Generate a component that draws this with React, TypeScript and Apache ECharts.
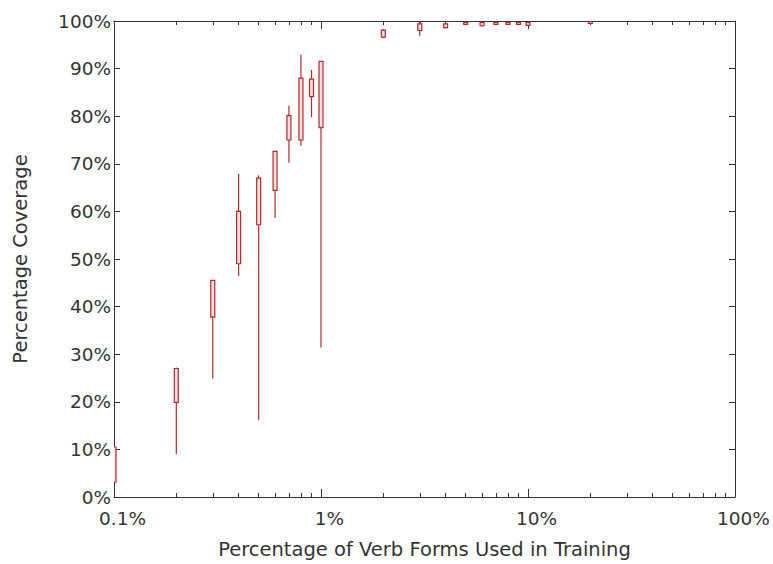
import React, { useEffect, useRef } from "react";
import * as echarts from "echarts";

// Training share (% of verb forms) for each box
const trainingPct = [0.1, 0.2, 0.3, 0.4, 0.5, 0.6, 0.7, 0.8, 0.9, 1, 2, 3, 4, 5, 6, 7, 8, 9, 10, 20];
// Coverage statistics (%)
const minVals = [2.9, 9.0, 24.9, 46.5, 16.2, 58.6, 70.2, 73.8, 79.8, 31.4, 96.4, 96.9, 98.5, 99.2, 98.8, 99.2, 99.2, 99.2, 99.0, 99.4];
const q1Vals = [3.1, 19.9, 37.8, 49.0, 57.2, 64.4, 75.0, 75.0, 84.1, 77.6, 96.6, 98.0, 98.6, 99.3, 99.0, 99.3, 99.3, 99.3, 99.1, 99.5];
const q3Vals = [10.5, 27.0, 45.5, 60.0, 67.0, 72.6, 80.1, 88.0, 87.8, 91.5, 98.1, 99.4, 99.4, 99.7, 99.7, 99.7, 99.7, 99.7, 99.7, 99.9];
const maxVals = [10.8, 27.2, 45.6, 67.9, 67.6, 72.7, 82.2, 92.9, 89.7, 91.6, 98.3, 99.9, 99.6, 99.9, 99.9, 99.9, 99.9, 99.9, 99.9, 100];

// Axis ticks
const majorTicksX = [0.1, 1, 10, 100];
const minorTicksX = [0.2, 0.3, 0.4, 0.5, 0.6, 0.7, 0.8, 0.9, 2, 3, 4, 5, 6, 7, 8, 9, 20, 30, 40, 50, 60, 70, 80, 90];

const FONT = "DejaVu Sans";
const AXIS_COLOR = "#333";
const BOX_COLOR = "#b02a2a";
const BOX_HALF = 2;

export default function App() {
  const ref = useRef<HTMLDivElement>(null);

  useEffect(() => {
    if (!ref.current) return;
    const chart = echarts.init(ref.current, null, { renderer: "svg" });

    const boxData = trainingPct.map((x, i) => [x, minVals[i], q1Vals[i], q3Vals[i], maxVals[i]]);

    const logAxisBase = {
      type: "log" as const,
      logBase: 10,
      min: 0.1,
      max: 100,
      gridIndex: 0,
      splitLine: { show: false },
      minorTick: { show: false },
    };

    const renderItem = (_params: any, api: any) => {
      const x = api.value(0);
      const pMin = api.coord([x, api.value(1)]);
      const pQ1 = api.coord([x, api.value(2)]);
      const pQ3 = api.coord([x, api.value(3)]);
      const pMax = api.coord([x, api.value(4)]);
      const cx = pQ1[0];
      const lineStyle = { stroke: BOX_COLOR, lineWidth: 1.2, fill: null };
      return {
        type: "group",
        children: [
          { type: "line", shape: { x1: cx, y1: pMin[1], x2: cx, y2: pQ1[1] }, style: lineStyle },
          { type: "line", shape: { x1: cx, y1: pQ3[1], x2: cx, y2: pMax[1] }, style: lineStyle },
          {
            type: "rect",
            shape: { x: cx - BOX_HALF, y: pQ3[1], width: BOX_HALF * 2, height: Math.max(pQ1[1] - pQ3[1], 1.5) },
            style: { stroke: BOX_COLOR, lineWidth: 1.2, fill: "#f4dede" },
          },
        ],
      };
    };

    chart.setOption({
      animation: false,
      backgroundColor: "#fff",
      grid: { left: 114, right: 38, top: 21, bottom: 66, containLabel: false },
      xAxis: [
        {
          ...logAxisBase,
          position: "bottom",
          name: "Percentage of Verb Forms Used in Training",
          nameLocation: "middle",
          nameGap: 42,
          nameTextStyle: { fontFamily: FONT, fontSize: 19.5, color: AXIS_COLOR },
          axisLine: { show: true, lineStyle: { color: AXIS_COLOR, width: 1 } },
          axisTick: { show: true, inside: true, length: 8, customValues: majorTicksX, lineStyle: { color: AXIS_COLOR } },
          axisLabel: {
            show: true,
            customValues: majorTicksX,
            margin: 12,
            padding: [0, 0, 0, 17],
            fontFamily: FONT,
            fontSize: 18.5,
            color: AXIS_COLOR,
            formatter: (v: number) => `${v}%`,
          },
        },
        {
          ...logAxisBase,
          position: "bottom",
          axisLine: { show: false },
          axisTick: { show: true, inside: true, length: 4, customValues: minorTicksX, lineStyle: { color: AXIS_COLOR } },
          axisLabel: { show: false },
        },
        {
          ...logAxisBase,
          position: "top",
          axisLine: { show: true, lineStyle: { color: AXIS_COLOR, width: 1 } },
          axisTick: { show: true, inside: true, length: 8, customValues: majorTicksX, lineStyle: { color: AXIS_COLOR } },
          axisLabel: { show: false },
        },
        {
          ...logAxisBase,
          position: "top",
          axisLine: { show: false },
          axisTick: { show: true, inside: true, length: 4, customValues: minorTicksX, lineStyle: { color: AXIS_COLOR } },
          axisLabel: { show: false },
        },
      ],
      yAxis: [
        {
          type: "value",
          position: "left",
          min: 0,
          max: 100,
          interval: 10,
          name: "Percentage Coverage",
          nameLocation: "middle",
          nameGap: 84,
          nameTextStyle: { fontFamily: FONT, fontSize: 19.5, color: AXIS_COLOR },
          splitLine: { show: false },
          axisLine: { show: true, lineStyle: { color: AXIS_COLOR, width: 1 } },
          axisTick: { show: true, inside: true, length: 6, lineStyle: { color: AXIS_COLOR } },
          axisLabel: {
            margin: 3,
            fontFamily: FONT,
            fontSize: 18.5,
            color: AXIS_COLOR,
            formatter: "{value}%",
          },
        },
        {
          type: "value",
          position: "right",
          min: 0,
          max: 100,
          interval: 10,
          splitLine: { show: false },
          axisLine: { show: true, lineStyle: { color: AXIS_COLOR, width: 1 } },
          axisTick: { show: true, inside: true, length: 6, lineStyle: { color: AXIS_COLOR } },
          axisLabel: { show: false },
        },
      ],
      series: [
        {
          type: "custom",
          xAxisIndex: 0,
          yAxisIndex: 0,
          clip: true,
          encode: { x: 0, y: [1, 2, 3, 4] },
          renderItem,
          data: boxData,
        },
      ],
    });

    return () => chart.dispose();
  }, []);

  return (
    <div
      ref={ref}
      style={{ position: "fixed", left: 0, top: 0, width: 773, height: 564 }}
    />
  );
}
